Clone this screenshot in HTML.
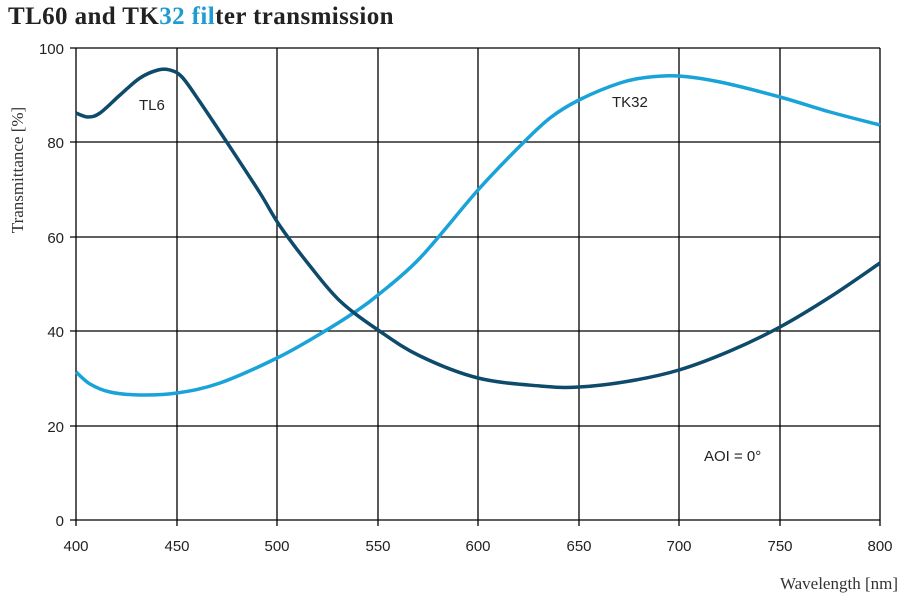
<!DOCTYPE html>
<html><head><meta charset="utf-8"><style>
body{margin:0;background:#fff;width:904px;height:604px;overflow:hidden}
</style></head><body>
<svg width="904" height="604" xmlns="http://www.w3.org/2000/svg">
<text x="8" y="24" font-family="Liberation Serif, serif" font-weight="bold" font-size="25" letter-spacing="0.4" fill="#222">TL60 and TK<tspan fill="#1e9cd0">32 fil</tspan>ter transmission</text>
<g stroke="#000" stroke-width="1.3">
<line x1="70" y1="48" x2="880" y2="48"/><line x1="70" y1="142" x2="880" y2="142"/><line x1="70" y1="237" x2="880" y2="237"/><line x1="70" y1="331" x2="880" y2="331"/><line x1="70" y1="426" x2="880" y2="426"/><line x1="70" y1="520" x2="880" y2="520"/>
<line x1="76" y1="48" x2="76" y2="526"/><line x1="177" y1="48" x2="177" y2="526"/><line x1="277" y1="48" x2="277" y2="526"/><line x1="378" y1="48" x2="378" y2="526"/><line x1="478" y1="48" x2="478" y2="526"/><line x1="579" y1="48" x2="579" y2="526"/><line x1="679" y1="48" x2="679" y2="526"/><line x1="780" y1="48" x2="780" y2="526"/><line x1="880" y1="48" x2="880" y2="526"/>
</g>
<g font-family="Liberation Sans, sans-serif" font-size="15" fill="#222" text-anchor="end">
<text x="64" y="54">100</text><text x="64" y="148">80</text><text x="64" y="243">60</text><text x="64" y="337">40</text><text x="64" y="432">20</text><text x="64" y="526">0</text>
</g>
<g font-family="Liberation Sans, sans-serif" font-size="15" fill="#222" text-anchor="middle">
<text x="76" y="551">400</text><text x="177" y="551">450</text><text x="277" y="551">500</text><text x="378" y="551">550</text><text x="478" y="551">600</text><text x="579" y="551">650</text><text x="679" y="551">700</text><text x="780" y="551">750</text><text x="880" y="551">800</text>
</g>
<text transform="translate(23,170) rotate(-90)" text-anchor="middle" font-family="Liberation Serif, serif" font-size="17" fill="#333">Transmittance [%]</text>
<text x="898" y="589" text-anchor="end" font-family="Liberation Serif, serif" font-size="17" fill="#333">Wavelength [nm]</text>
<path id="tk" fill="none" stroke="#1aa3d9" stroke-width="3.5" stroke-linejoin="round"/>
<path id="tl" fill="none" stroke="#0d4a6b" stroke-width="3.5" stroke-linejoin="round"/>
<g font-family="Liberation Sans, sans-serif" font-size="15" fill="#222">
<text x="139" y="110">TL6</text><text x="612" y="107">TK32</text><text x="704" y="461">AOI = 0°</text>
</g>
</svg>
<script>
function cr(p){var d="M"+p[0][0]+","+p[0][1];for(var i=0;i<p.length-1;i++){var a=p[i-1]||p[i],b=p[i],c=p[i+1],e=p[i+2]||c;d+=" C"+(b[0]+(c[0]-a[0])/6)+","+(b[1]+(c[1]-a[1])/6)+" "+(c[0]-(e[0]-b[0])/6)+","+(c[1]-(e[1]-b[1])/6)+" "+c[0]+","+c[1];}return d;}
document.getElementById("tl").setAttribute("d",cr([[76,113],[88,117],[100,113],[120,95],[140,78],[158,70],[170,70],[182,77],[200,102],[230,147],[260,193],[280,226],[310,266],[340,301],[378,330],[420,356],[478,378],[540,386],[579,387],[630,381],[679,370],[730,351],[780,327],[830,297],[880,263]]));
document.getElementById("tk").setAttribute("d",cr([[76,372],[90,384],[110,392],[140,395],[177,393],[220,383],[277,358],[320,334],[355,312],[378,295],[420,258],[478,190],[520,146],[550,118],[579,100],[620,83],[650,77],[679,76],[720,82],[780,97],[830,112],[880,125]]));
</script>
</body></html>
